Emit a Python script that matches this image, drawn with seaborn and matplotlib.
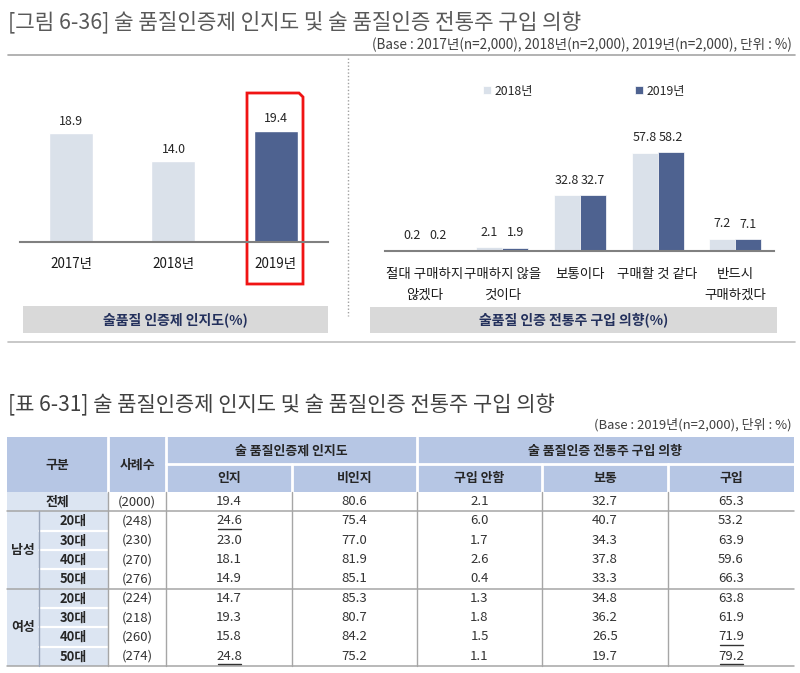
import numpy as np
import pandas as pd
import matplotlib
matplotlib.use('Agg')
import matplotlib.pyplot as plt
import seaborn as sns
from matplotlib.patches import Rectangle, Polygon
from matplotlib import font_manager as fm

# ---------------- data ----------------
title1 = '[그림 6-36] 술 품질인증제 인지도 및 술 품질인증 전통주 구입 의향'
subtitle1 = '(Base : 2017년(n=2,000), 2018년(n=2,000), 2019년(n=2,000), 단위 : %)'
left_box_title = '술품질 인증제 인지도(%)'
right_box_title = '술품질 인증 전통주 구입 의향(%)'

years_left = ['2017년', '2018년', '2019년']
aware_left = [18.9, 14.0, 19.4]

intent_cats = ['절대 구매하지\n않겠다', '구매하지 않을\n것이다', '보통이다', '구매할 것 같다', '반드시\n구매하겠다']
legend_years = ['2018년', '2019년']
intent_2018 = [0.2, 2.1, 32.8, 57.8, 7.2]
intent_2019 = [0.2, 1.9, 32.7, 58.2, 7.1]

title2 = '[표 6-31] 술 품질인증제 인지도 및 술 품질인증 전통주 구입 의향'
subtitle2 = '(Base : 2019년(n=2,000), 단위 : %)'
hdr_group = ['구분', '사례수', '술 품질인증제 인지도', '술 품질인증 전통주 구입 의향']
hdr_sub = ['인지', '비인지', '구입 안함', '보통', '구입']
tbl_total_label = '전체'
tbl_genders = ['남성', '여성']
tbl_ages = ['20대', '30대', '40대', '50대']
tbl_n = [2000, 248, 230, 270, 276, 224, 218, 260, 274]
tbl_aware = [19.4, 24.6, 23.0, 18.1, 14.9, 14.7, 19.3, 15.8, 24.8]
tbl_unaware = [80.6, 75.4, 77.0, 81.9, 85.1, 85.3, 80.7, 84.2, 75.2]
tbl_nobuy = [2.1, 6.0, 1.7, 2.6, 0.4, 1.3, 1.8, 1.5, 1.1]
tbl_neutral = [32.7, 40.7, 34.3, 37.8, 33.3, 34.8, 36.2, 26.5, 19.7]
tbl_buy = [65.3, 53.2, 63.9, 59.6, 66.3, 63.8, 61.9, 71.9, 79.2]
# (row, value-column index) pairs that are underlined in the source
tbl_underline = [(1, 0), (8, 0), (7, 4), (8, 4)]

# ---------------- style ----------------
W, H = 800, 673
LIGHT = '#DAE1EA'
DARK = '#4E6290'
BOX = '#D9D9D9'
NAVY = '#23305C'
HDR = '#B6C6E4'
ROWLAB = '#DCE5F2'
GRID = '#A6A6A6'

sns.set_theme(style='white')
KR = ['Noto Sans CJK KR', 'DejaVu Sans']
plt.rcParams['font.family'] = KR
names = {f.name for f in fm.fontManager.ttflist}
NARROW = (['Liberation Sans Narrow'] if 'Liberation Sans Narrow' in names else []) + KR

fig = plt.figure(figsize=(W / 100, H / 100), dpi=100)


def add_ax(x0, y0, x1, y1):
    return fig.add_axes([x0 / W, 1 - y1 / H, (x1 - x0) / W, (y1 - y0) / H])


ov = fig.add_axes([0, 0, 1, 1], zorder=0)
ov.set_xlim(0, W)
ov.set_ylim(H, 0)
ov.axis('off')

# ---------------- top figure header ----------------
ov.text(8, 22, title1, fontsize=15.3, color='#595959', va='center', ha='left')
ov.text(792, 45, subtitle1, fontsize=9.75, color='#404040', va='center', ha='right')
ov.plot([8, 795], [55, 55], color=GRID, lw=1.2)
ov.plot([348, 348], [58, 316], color='#A0A0A0', lw=1, linestyle=(0, (1, 1.5)))
ov.plot([8, 795], [342, 342], color='#BFBFBF', lw=1.2)

# ---------------- left chart ----------------
axL = add_ax(20, 70, 328, 241.5)
axL.set_zorder(1)
axL.patch.set_alpha(0)
sns.barplot(x=years_left, y=aware_left, hue=years_left, palette=[LIGHT, LIGHT, DARK],
            width=0.43, saturation=1, legend=False, ax=axL)
axL.set_ylim(0, 30)
axL.set_xlim(-0.5, 2.51)
for c in axL.containers:
    axL.bar_label(c, fmt='%.1f', padding=4, fontsize=8.9, color='#262626')
for s in ['top', 'left', 'right']:
    axL.spines[s].set_visible(False)
axL.spines['bottom'].set_color('#808080')
axL.spines['bottom'].set_linewidth(1.5)
axL.set_yticks([])
axL.set_xlabel('')
axL.set_ylabel('')
axL.tick_params(axis='x', length=0, pad=11, labelsize=9.7, labelcolor='#1A1A1A')

# red highlight around 2019
ov.add_patch(Polygon([(247, 93), (299, 93), (303, 97), (303, 284), (247, 284)],
                     closed=True, fill=False, edgecolor='#F01414', lw=2))

ov.add_patch(Rectangle((23, 306), 305, 27, facecolor=BOX, edgecolor='none'))
ov.text(175.5, 320, left_box_title, fontsize=10, fontweight='bold', color=NAVY,
        ha='center', va='center')

# ---------------- right chart ----------------
axR = add_ax(385, 81, 774, 251)
axR.set_zorder(1)
axR.patch.set_alpha(0)
df = pd.DataFrame({
    'cat': intent_cats * 2,
    'year': [legend_years[0]] * len(intent_cats) + [legend_years[1]] * len(intent_cats),
    'val': intent_2018 + intent_2019,
})
sns.barplot(data=df, x='cat', y='val', hue='year', hue_order=legend_years,
            palette=[LIGHT, DARK], width=0.67, saturation=1, ax=axR,
            edgecolor='white', linewidth=0.5)
axR.set_ylim(0, 100)
axR.set_xlim(-0.51, 4.5)
for c in axR.containers:
    axR.bar_label(c, fmt='%.1f', padding=6, fontsize=9, color='#262626')
for s in ['top', 'left', 'right']:
    axR.spines[s].set_visible(False)
axR.spines['bottom'].set_color('#808080')
axR.spines['bottom'].set_linewidth(1.5)
axR.set_yticks([])
axR.set_xlabel('')
axR.set_ylabel('')
axR.tick_params(axis='x', length=0, pad=11.5, labelsize=9.7, labelcolor='#1A1A1A')
for lab in axR.get_xticklabels():
    lab.set_linespacing(1.62)
handles, labels = axR.get_legend_handles_labels()
axR.legend(handles, labels, loc='center left', bbox_to_anchor=(483 / W, 1 - 91 / H),
           bbox_transform=fig.transFigure, ncol=2, frameon=False, handlelength=0.65,
           handleheight=0.65, handletextpad=0.3, columnspacing=8.3, fontsize=8.8,
           borderpad=0, borderaxespad=0)

ov.add_patch(Rectangle((370, 307), 407, 26, facecolor=BOX, edgecolor='none'))
ov.text(573.5, 320, right_box_title, fontsize=10, fontweight='bold', color=NAVY,
        ha='center', va='center')

# ---------------- table ----------------
ov.text(8, 405, title2, fontsize=15.1, color='#404040', va='center', ha='left')
ov.text(792, 425, subtitle2, fontsize=9.4, color='#404040', va='center', ha='right')

cx = [7, 39, 108, 166, 292, 417, 542, 668, 794]
ht, hm, hb = 437, 464, 492
nrows = len(tbl_n)
bottom = 666
rh = (bottom - hb) / nrows
ry = [hb + i * rh for i in range(nrows + 1)]

# header
ov.add_patch(Rectangle((cx[0], ht), cx[-1] - cx[0], hb - ht, facecolor=HDR, edgecolor='none'))
for x in [cx[2], cx[3], cx[5]]:
    ov.plot([x, x], [ht, hb], color='white', lw=2)
for x in [cx[4], cx[6], cx[7]]:
    ov.plot([x, x], [hm, hb], color='white', lw=2)
ov.plot([cx[3], cx[-1]], [hm, hm], color='white', lw=2)
hkw = dict(fontsize=9.3, color='#262626', ha='center', va='center', family=NARROW, fontweight='bold')
ov.text((cx[0] + cx[2]) / 2, (ht + hb) / 2, hdr_group[0], **hkw)
ov.text((cx[2] + cx[3]) / 2, (ht + hb) / 2, hdr_group[1], **hkw)
ov.text((cx[3] + cx[5]) / 2, (ht + hm) / 2, hdr_group[2], **hkw)
ov.text((cx[5] + cx[8]) / 2, (ht + hm) / 2, hdr_group[3], **hkw)
for j, s in enumerate(hdr_sub):
    ov.text((cx[3 + j] + cx[4 + j]) / 2, (hm + hb) / 2, s, **hkw)

# row label region
ov.add_patch(Rectangle((cx[0], hb), cx[2] - cx[0], bottom - hb, facecolor=ROWLAB, edgecolor='none'))
ng = len(tbl_ages)
for g in range(len(tbl_genders)):
    for k in range(1, ng):
        yy = ry[1 + g * ng + k]
        ov.plot([cx[1], cx[2]], [yy, yy], color='white', lw=1.6)
# grid lines
for yy in [ry[1], ry[1 + ng], ry[-1]]:
    ov.plot([cx[0], cx[-1]], [yy, yy], color=GRID, lw=1.1)
ov.plot([cx[1], cx[1]], [ry[1], ry[-1]], color='#9AA6BA', lw=1)
for x in cx[2:-1]:
    ov.plot([x, x], [hb, bottom], color=GRID, lw=1)

lkw = dict(fontsize=9.3, color='#262626', ha='center', va='center', family=NARROW, fontweight='bold')
dkw = dict(fontsize=9.5, color='#333333', ha='center', va='center', family=NARROW)
rc = [(ry[i] + ry[i + 1]) / 2 for i in range(nrows)]
ov.text((cx[0] + cx[2]) / 2, rc[0], tbl_total_label, **lkw)
for g, gname in enumerate(tbl_genders):
    ov.text((cx[0] + cx[1]) / 2, (ry[1 + g * ng] + ry[1 + (g + 1) * ng]) / 2, gname, **lkw)
    for k, a in enumerate(tbl_ages):
        ov.text((cx[1] + cx[2]) / 2, rc[1 + g * ng + k], a, **lkw)

cols = [tbl_aware, tbl_unaware, tbl_nobuy, tbl_neutral, tbl_buy]
for i in range(nrows):
    ov.text((cx[2] + cx[3]) / 2, rc[i], f'({tbl_n[i]})', **dkw)
    for j, col in enumerate(cols):
        xc = (cx[3 + j] + cx[4 + j]) / 2
        ov.text(xc, rc[i], f'{col[i]:.1f}', **dkw)
        if (i, j) in tbl_underline:
            ov.plot([xc - 11.5, xc + 11.5], [rc[i] + 7.5, rc[i] + 7.5], color='#333333', lw=1)

fig.savefig('out.png', dpi=100)
